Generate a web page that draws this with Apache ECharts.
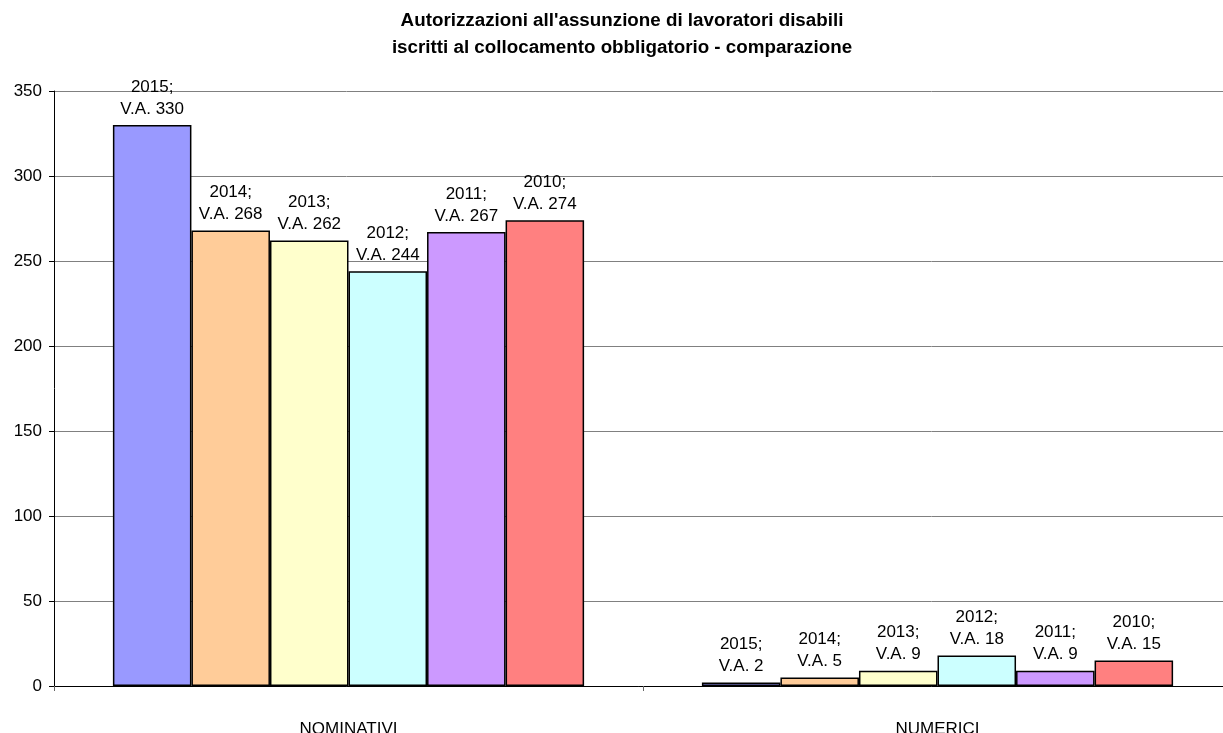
<!DOCTYPE html>
<html><head><meta charset="utf-8">
<script src="https://cdn.jsdelivr.net/npm/echarts@6/dist/echarts.min.js"></script>
<style>html,body{margin:0;padding:0;background:#fff}#c{width:1223px;height:733px}</style>
</head><body><div id="c"></div>
<script>
const categories = ['NOMINATIVI', 'NUMERICI'];
const years = ['2015', '2014', '2013', '2012', '2011', '2010'];
const v2015 = [330, 2];
const v2014 = [268, 5];
const v2013 = [262, 9];
const v2012 = [244, 18];
const v2011 = [267, 9];
const v2010 = [274, 15];
const yTicks = [0, 50, 100, 150, 200, 250, 300, 350];
const colors = ['#9999FF', '#FFCC99', '#FFFFCC', '#CCFFFF', '#CC99FF', '#FF8080'];
const values = [v2015, v2014, v2013, v2012, v2011, v2010];

const FONT = 'Liberation Sans, Arial, sans-serif';
const chart = echarts.init(document.getElementById('c'));
chart.setOption({
  animation: false,
  title: {
    text: "Autorizzazioni all'assunzione di lavoratori disabili\niscritti al collocamento obbligatorio - comparazione",
    left: 622, textAlign: 'center', top: 7, padding: 0,
    textStyle: { fontFamily: FONT, fontSize: 18.8, fontWeight: 'bold', color: '#000', lineHeight: 27 }
  },
  grid: { left: 54, width: 1178, top: 91, height: 595, containLabel: false, outerBoundsMode: 'none' },
  xAxis: {
    type: 'category', data: categories,
    axisLine: { lineStyle: { color: '#000', width: 1 } },
    axisTick: { show: true, length: 5, lineStyle: { color: '#666' } },
    axisLabel: { margin: 35, fontFamily: FONT, fontSize: 17, color: '#000' }
  },
  yAxis: {
    type: 'value', min: yTicks[0], max: yTicks[yTicks.length - 1], interval: 50,
    axisLine: { show: true, lineStyle: { color: '#000', width: 1 } },
    axisTick: { show: true, length: 5, lineStyle: { color: '#000' } },
    axisLabel: { margin: 12, fontFamily: FONT, fontSize: 17, color: '#000' },
    splitLine: { lineStyle: { color: '#808080', width: 1 } }
  },
  series: years.map((y, i) => ({
    name: y, type: 'bar', data: values[i],
    barGap: '0%', barCategoryGap: '20%',
    itemStyle: { color: colors[i], borderColor: '#000', borderWidth: 1.5 },
    label: {
      show: true, position: 'top', distance: 5,
      formatter: p => y + ';\nV.A. ' + p.value,
      fontFamily: FONT, fontSize: 17, color: '#000', lineHeight: 22
    }
  }))
});
</script></body></html>
